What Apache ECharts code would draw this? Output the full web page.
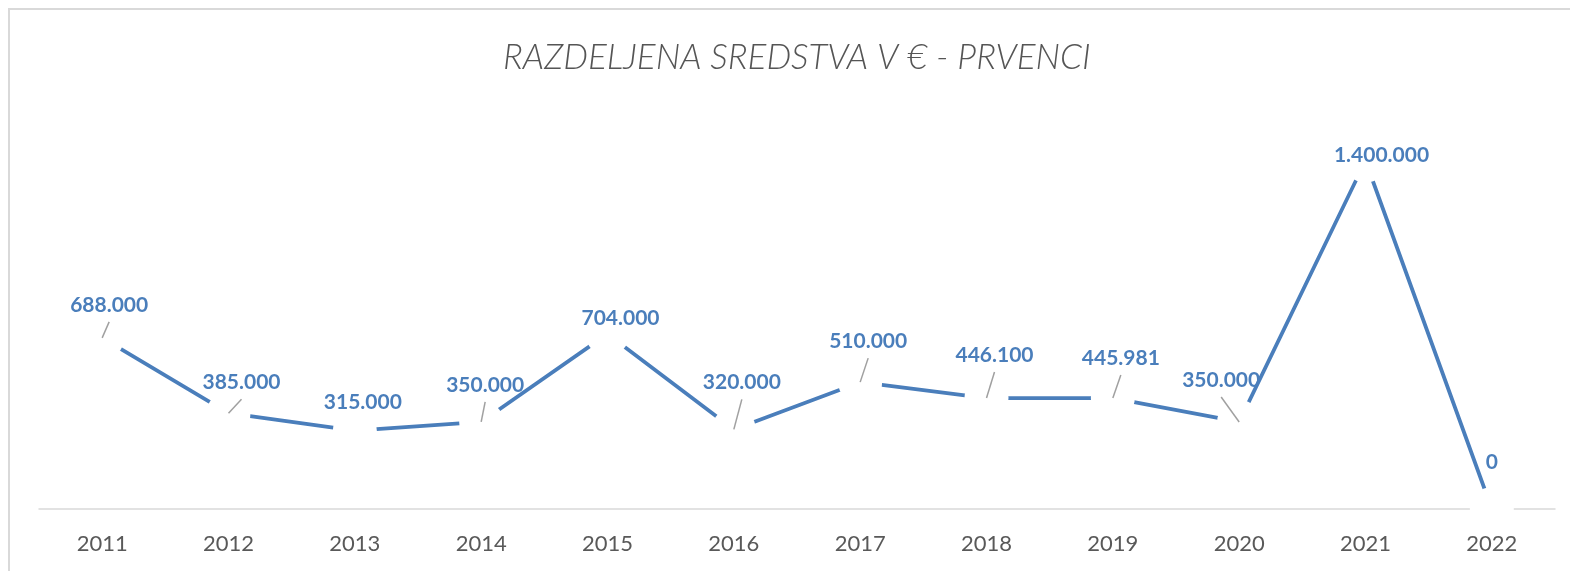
<!DOCTYPE html>
<html>
<head>
<meta charset="utf-8">
<script src="https://cdn.jsdelivr.net/npm/echarts@6/dist/echarts.min.js"></script>
<style>
  html, body { margin: 0; padding: 0; background: #fff; }
  #chart { width: 1570px; height: 571px; }
</style>
</head>
<body>
<div id="chart"></div>
<script>
// data
var years = ["2011", "2012", "2013", "2014", "2015", "2016", "2017", "2018", "2019", "2020", "2021", "2022"];
var amounts = [688000, 385000, 315000, 350000, 704000, 320000, 510000, 446100, 445981, 350000, 1400000, 0];

// label placement relative to the point (px), and which labels get a leader line
var labelOffsets = [[7, -33], [13, -31], [8, -28], [4, -37], [13, -16], [8, -47],
                    [8, -41], [8, -43], [8, -40], [-18, -42], [16, -6], [0, -47]];
var hasLeader = [true, true, false, true, false, true, true, true, true, true, false, false];

var blue = "#4a7ebb";

function fmt(v) {
  // slovenian thousands separator
  return String(v).replace(/\B(?=(\d{3})+(?!\d))/g, ".");
}

var myChart = echarts.init(document.getElementById("chart"));

var option = {
  animation: false,
  backgroundColor: "#fff",
  title: {
    text: "RAZDELJENA SREDSTVA V € - PRVENCI",
    left: 498,
    top: 35,
    textStyle: {
      fontFamily: "Lato",
      fontStyle: "italic",
      fontWeight: 300,
      fontSize: 35,
      color: "#555555"
    }
  },
  graphic: [{
    type: "rect",
    shape: { x: 9, y: 9, width: 1580, height: 580 },
    style: { fill: "none", stroke: "#d9d9d9", lineWidth: 2 },
    silent: true
  }],
  grid: { left: 39, right: 15, top: 111, bottom: 62 },
  xAxis: {
    type: "category",
    data: years,
    boundaryGap: true,
    axisLine: { lineStyle: { color: "#d9d9d9", width: 1.5 } },
    axisTick: { show: false },
    axisLabel: {
      margin: 24,
      fontFamily: "Lato",
      fontSize: 22,
      color: "#595959"
    }
  },
  yAxis: {
    type: "value",
    min: 0,
    max: 1600000,
    show: false,
    splitLine: { show: false }
  },
  series: [
    {
      type: "line",
      data: amounts,
      z: 3,
      symbol: "circle",
      symbolSize: 44,
      showAllSymbol: true,
      itemStyle: { color: "#fff", borderWidth: 0 },
      lineStyle: { color: blue, width: 3.75 },
      emphasis: { disabled: true },
      silent: true
    },
    {
      type: "custom",
      z: 5,
      silent: true,
      data: amounts.map(function (v, i) { return [i, v]; }),
      renderItem: function (params, api) {
        var i = params.dataIndex;
        var p = api.coord([api.value(0), api.value(1)]);
        var off = labelOffsets[i];
        var lx = p[0] + off[0];
        var ly = p[1] + off[1];
        var children = [];
        if (hasLeader[i]) {
          children.push({
            type: "line",
            shape: { x1: lx, y1: ly + 17, x2: p[0], y2: p[1] },
            style: { stroke: "#a0a0a0", lineWidth: 1.5 }
          });
        }
        children.push({
          type: "text",
          x: lx,
          y: ly,
          style: {
            text: fmt(amounts[i]),
            fill: blue,
            font: "bold 21px Lato",
            align: "center",
            verticalAlign: "middle"
          }
        });
        return { type: "group", children: children };
      }
    }
  ]
};

myChart.setOption(option);
</script>
</body>
</html>
